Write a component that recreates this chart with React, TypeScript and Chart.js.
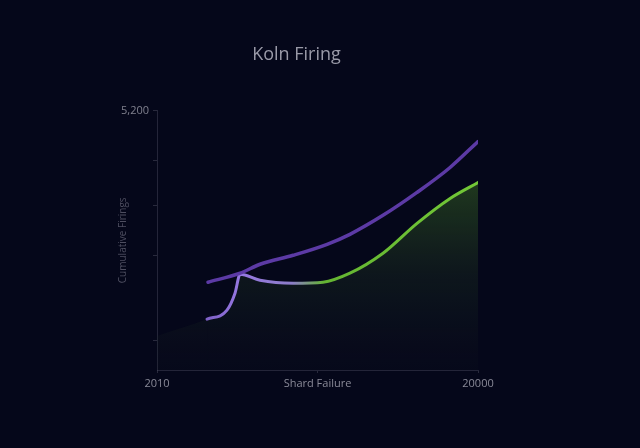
import React, { useEffect, useRef } from "react";
import { Chart, registerables } from "chart.js";

Chart.register(...registerables);

const titleText = "Koln Firing";
const yAxisTitle = "Cumulative Firings";
const xTickValues = [0, 50, 100];
const xTickLabels = ["2010", "Shard Failure", "20000"];
const yTickValues = [600, 2300, 3300, 4200, 5200];
const yTickLabels = ["", "", "", "", "5,200"];

const purpleX = [15.9, 25.9, 32.1, 42.4, 53, 60.1, 70.4, 81, 91.3, 100];
const purpleY = [1760, 1940, 2120, 2300, 2520, 2720, 3100, 3560, 4060, 4580];

const greenX = [0, 15.6, 21.8, 24.3, 25.9, 32.1, 42.4, 51.7, 60.1, 70.4, 81, 91.3, 100];
const greenY = [680, 1020, 1200, 1540, 1920, 1800, 1740, 1760, 1940, 2340, 2940, 3440, 3760];

const BG = "#05071a";

export default function App() {
  const ref = useRef<HTMLCanvasElement>(null);
  useEffect(() => {
    if (!ref.current) return;
    const chart = new Chart(ref.current, {
      type: "line",
      data: {
        datasets: [
          {
            label: "A",
            data: purpleX.map((x, i) => ({ x, y: purpleY[i] })),
            borderColor: "rgb(92,58,165)",
            borderWidth: 3.5,
            pointRadius: 0,
            cubicInterpolationMode: "monotone",
            fill: false,
            borderCapStyle: "round",
          },
          {
            label: "B",
            data: greenX.map((x, i) => ({ x, y: greenY[i] })),
            borderWidth: 3,
            pointRadius: 0,
            cubicInterpolationMode: "monotone",
            borderCapStyle: "round",
            fill: "origin",
            borderColor: (c: any) => {
              const { chart } = c;
              const a = chart.chartArea;
              if (!a) return "rgb(110,190,50)";
              const g = chart.ctx.createLinearGradient(a.left, 0, a.right, 0);
              g.addColorStop(0, "rgb(90,60,160)");
              g.addColorStop(0.26, "rgb(150,120,225)");
              g.addColorStop(0.42, "rgb(140,125,200)");
              g.addColorStop(0.52, "rgb(100,180,50)");
              g.addColorStop(1, "rgb(115,200,55)");
              return g;
            },
            segment: {
              borderColor: (c: any) => (c.p0DataIndex === 0 ? "rgba(0,0,0,0)" : undefined),
            },
            backgroundColor: (c: any) => {
              const { chart } = c;
              const a = chart.chartArea;
              if (!a) return "rgba(60,110,40,0.3)";
              const g = chart.ctx.createLinearGradient(0, a.top + 70, 0, a.bottom);
              g.addColorStop(0, "rgba(60,110,35,0.5)");
              g.addColorStop(0.5, "rgba(35,60,35,0.3)");
              g.addColorStop(1, "rgba(20,25,35,0.12)");
              return g;
            },
          },
        ],
      },
      options: {
        animation: false,
        responsive: false,
        layout: { padding: { left: 115, right: 162, top: 0, bottom: 48 } },
        plugins: {
          legend: { display: false },
          tooltip: { enabled: false },
          title: {
            display: true,
            text: titleText,
            color: "#9a9aa8",
            font: { family: "Open Sans", size: 18, weight: "500" },
            padding: { top: 44, bottom: 45 },
          },
        },
        scales: {
          x: {
            type: "linear",
            min: 0,
            max: 100,
            afterBuildTicks: (s: any) => {
              s.ticks = xTickValues.map((v) => ({ value: v }));
            },
            afterFit: (s: any) => {
              s.height = 30;
            },
            ticks: {
              color: "#8a8a98",
              font: { family: "Open Sans", size: 11 },
              padding: 4,
              maxRotation: 0,
              autoSkip: false,
              callback: (v: any) => {
                const i = xTickValues.indexOf(Number(v));
                return i >= 0 ? xTickLabels[i] : "";
              },
            },
            grid: {
              drawOnChartArea: false,
              drawTicks: true,
              tickLength: 3,
              color: "rgba(110,110,130,0.35)",
            },
            border: { color: "rgba(110,110,130,0.3)" },
          },
          y: {
            type: "linear",
            min: 0,
            max: 5200,
            afterBuildTicks: (s: any) => {
              s.ticks = yTickValues.map((v) => ({ value: v }));
            },
            afterFit: (s: any) => {
              s.width = 42;
            },
            title: {
              display: true,
              text: yAxisTitle,
              color: "#4e4e60",
              font: { family: "Open Sans", size: 10 },
              padding: 2,
            },
            ticks: {
              color: "#80808e",
              font: { family: "Open Sans", size: 11 },
              padding: 4,
              autoSkip: false,
              callback: (v: any) => {
                const i = yTickValues.indexOf(Number(v));
                return i >= 0 ? yTickLabels[i] : "";
              },
            },
            grid: {
              drawOnChartArea: false,
              drawTicks: true,
              tickLength: 4,
              color: "rgba(110,110,130,0.35)",
            },
            border: { color: "rgba(110,110,130,0.3)" },
          },
        },
      },
    } as any);
    return () => chart.destroy();
  }, []);
  return (
    <div style={{ position: "fixed", left: 0, top: 0, width: 640, height: 448, background: BG }}>
      <canvas ref={ref} width={640} height={448} style={{ display: "block" }} />
    </div>
  );
}
